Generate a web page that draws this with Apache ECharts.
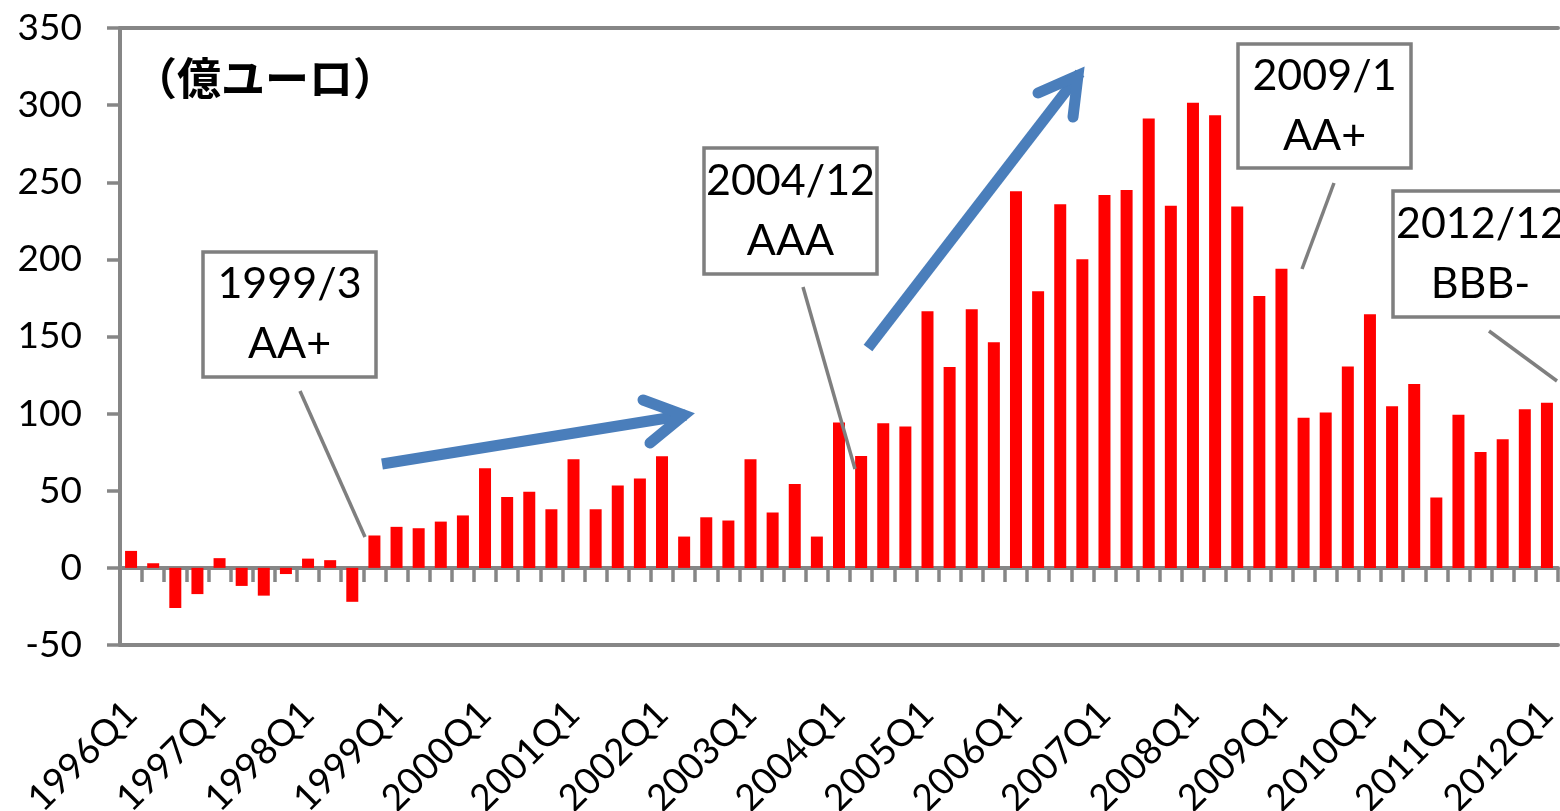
<!DOCTYPE html>
<html>
<head>
<meta charset="utf-8">
<script src="https://cdn.jsdelivr.net/npm/echarts@6/dist/echarts.min.js"></script>
<style>
html, body { margin: 0; padding: 0; background: #fff; }
#main { width: 1560px; height: 811px; }
</style>
</head>
<body>
<div id="main"></div>
<script>
// 四半期ラベル 1996Q1 - 2012Q1
var firstYear = 1996;
var lastYear = 2012;
var quarters = [];
for (var y = firstYear; y <= lastYear; y++) {
    for (var q = 1; q <= 4; q++) {
        if (y === lastYear && q > 1) break;
        quarters.push(y + 'Q' + q);
    }
}

// 億ユーロ
var flows = [
    11, 3, -26, -17,
    6.3, -11.7, -18, -4,
    6, 5, -22, 21,
    26.6, 25.7, 30, 34,
    64.6, 46, 49.3, 38,
    70.4, 38, 53.4, 57.9,
    72.4, 20.3, 32.8, 30.7,
    70.4, 35.9, 54.4, 20.3,
    94.2, 72.5, 93.8, 91.6,
    166.3, 130.3, 167.6, 146.3,
    244.1, 179.3, 235.7, 200.1,
    241.7, 245, 291.4, 234.8,
    301.6, 293.4, 234.2, 176.3,
    194, 97.4, 100.7, 130.5,
    164.4, 104.8, 119.2, 45.6,
    99.2, 75.2, 83.4, 102.8,
    107.1
];

var yMin = -50;
var yMax = 350;
var yStep = 50;

var ratingDates = ['1999/3', '2004/12', '2009/1', '2012/12'];
var ratings = ['AA+', 'AAA', 'AA+', 'BBB-'];

var axisGray = '#868686';
var boxGray = '#7f7f7f';
var arrowBlue = '#4a7ebb';
var font = 'Lato';

// 注記ボックスの位置 (px)
var boxes = [
    { x: 203, y: 252, w: 173, h: 125 },
    { x: 704, y: 148, w: 173, h: 126 },
    { x: 1238, y: 44, w: 173, h: 124 },
    { x: 1393, y: 191, w: 175, h: 126 }
];
var leaders = [
    [300, 391, 365, 537],
    [803, 287, 855, 469],
    [1334, 183, 1302, 269],
    [1489, 331, 1557, 381]
];

var chart = echarts.init(document.getElementById('main'));

var graphics = [];
leaders.forEach(function (l) {
    graphics.push({
        type: 'line', z: 10,
        shape: { x1: l[0], y1: l[1], x2: l[2], y2: l[3] },
        style: { stroke: boxGray, lineWidth: 3.5 }
    });
});
boxes.forEach(function (b, i) {
    graphics.push({
        type: 'rect', z: 10,
        shape: { x: b.x, y: b.y, width: b.w, height: b.h },
        style: { fill: '#fff', stroke: boxGray, lineWidth: 3.5 }
    });
    graphics.push({
        type: 'text', z: 11,
        x: b.x + b.w / 2, y: b.y + b.h / 2,
        style: {
            text: ratingDates[i] + '\n' + ratings[i],
            fontSize: 43, fontFamily: font, fill: '#000',
            align: 'center', verticalAlign: 'middle', lineHeight: 60
        }
    });
});

// 矢印
graphics.push(
    { type: 'line', z: 10, shape: { x1: 382, y1: 464, x2: 686, y2: 415 },
      style: { stroke: arrowBlue, lineWidth: 11, lineCap: 'butt' } },
    { type: 'polyline', z: 10, shape: { points: [[643, 400], [684, 415], [650, 443]] },
      style: { stroke: arrowBlue, fill: null, lineWidth: 11, lineJoin: 'miter', lineCap: 'round' } },
    { type: 'line', z: 10, shape: { x1: 868, y1: 348, x2: 1080, y2: 73 },
      style: { stroke: arrowBlue, lineWidth: 11, lineCap: 'butt' } },
    { type: 'polyline', z: 10, shape: { points: [[1038, 93], [1078, 75.5], [1073, 117]] },
      style: { stroke: arrowBlue, fill: null, lineWidth: 11, lineJoin: 'miter', lineCap: 'round' } }
);

graphics.push({
    type: 'text', z: 11, x: 265, y: 78,
    style: {
        text: '（億ユーロ）', fontSize: 44, fontWeight: 'bold',
        fontFamily: 'Noto Sans CJK JP', fill: '#000',
        align: 'center', verticalAlign: 'middle'
    }
});

var option = {
    animation: false,
    backgroundColor: '#fff',
    grid: {
        left: 120, right: 2, top: 28, bottom: 166,
        containLabel: false, outerBoundsMode: 'none'
    },
    xAxis: [{
        // ゼロ線と目盛
        type: 'category', data: quarters, position: 'bottom',
        axisLine: { show: true, onZero: true, lineStyle: { color: axisGray, width: 4 } },
        axisTick: { show: true, interval: 0, length: 14, lineStyle: { color: axisGray, width: 3.5 } },
        axisLabel: { show: false },
        splitLine: { show: false }
    }, {
        // 下枠とラベル
        type: 'category', data: quarters, position: 'bottom',
        axisLine: { show: true, onZero: false, lineStyle: { color: axisGray, width: 4 } },
        axisTick: { show: false },
        axisLabel: {
            interval: 3, rotate: 45, margin: 63,
            fontSize: 37, fontFamily: font, color: '#000',
            align: 'right', verticalAlign: 'middle', padding: [10, 0, 0, 0]
        },
        splitLine: { show: false }
    }, {
        // 上枠
        type: 'category', data: quarters, position: 'top',
        axisLine: { show: true, onZero: false, lineStyle: { color: axisGray, width: 4 } },
        axisTick: { show: false },
        axisLabel: { show: false },
        splitLine: { show: false }
    }],
    yAxis: {
        type: 'value', min: yMin, max: yMax, interval: yStep,
        axisLine: { show: true, lineStyle: { color: axisGray, width: 4 } },
        axisTick: { show: true, length: 13, lineStyle: { color: axisGray, width: 3.5 } },
        axisLabel: { fontSize: 37, fontFamily: font, color: '#000', margin: 38 },
        splitLine: { show: false }
    },
    series: [{
        type: 'bar',
        xAxisIndex: 0,
        data: flows,
        barWidth: 12,
        itemStyle: { color: '#ff0000' }
    }],
    graphic: graphics
};
chart.setOption(option);
</script>
</body>
</html>
